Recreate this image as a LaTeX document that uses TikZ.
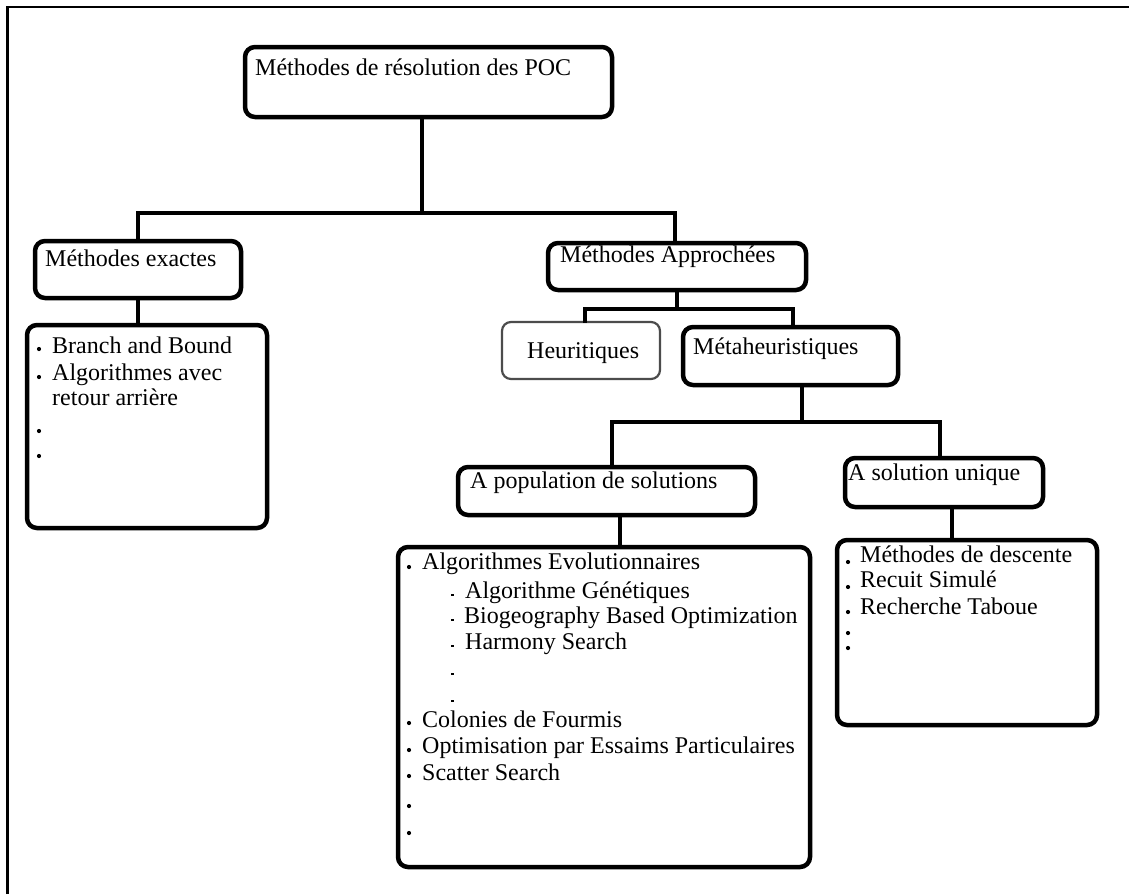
\documentclass[tikz,border=0pt]{standalone}
\usepackage{fontspec}
\setmainfont{Liberation Serif}
\begin{document}
\begin{tikzpicture}[x=1pt,y=-1pt,
  box/.style={draw=black, line width=4.5pt, rounded corners=10pt, inner sep=0pt},
  lightbox/.style={draw=black!70, line width=2.2pt, rounded corners=9pt, inner sep=0pt},
  txt/.style={anchor=base west, inner sep=0pt, font=\fontsize{24}{28}\selectfont},
  conn/.style={line width=3.5pt, line cap=rect},
  bul/.style={circle, fill=black, inner sep=0pt, minimum size=4.2pt},
  sub/.style={rectangle, fill=black, inner sep=0pt, minimum width=3pt, minimum height=2pt}]
\useasboundingbox (0,0) rectangle (1129,894);
\fill[white] (0,0) rectangle (1129,894);
% outer frame
\coordinate (fa) at (7.5,894);
\coordinate (fb) at (7.5,7);
\coordinate (fc) at (1129,7);
\draw[line width=2.5pt] (fa) -- (fb) -- (fc);

% boxes
\node[box, minimum width=367pt, minimum height=70pt] (top) at (428.5,82) {};
\node[box, minimum width=206pt, minimum height=57pt] (ex) at (138,269.5) {};
\node[box, minimum width=258pt, minimum height=47pt] (ap) at (677,266.5) {};
\node[box, minimum width=240pt, minimum height=203pt] (exl) at (147,426.5) {};
\node[lightbox, minimum width=158pt, minimum height=57pt] (heu) at (581,350.5) {};
\node[box, minimum width=215pt, minimum height=58pt] (meta) at (790.5,356) {};
\node[box, minimum width=297pt, minimum height=48pt] (pop) at (606.5,491) {};
\node[box, minimum width=198pt, minimum height=49pt] (uni) at (944,482.5) {};
\node[box, minimum width=412pt, minimum height=320pt] (popl) at (604,707) {};
\node[box, minimum width=260pt, minimum height=185pt] (unil) at (967,632.5) {};

% box titles
\node[txt] (topt) at (255,75) {Méthodes de résolution des POC};
\node[txt] (ext) at (45,266) {Méthodes exactes};
\node[txt] (apt) at (560,262) {Méthodes Approchées};
\node[txt] (heut) at (527,358) {Heuritiques};
\node[txt] (metat) at (693,354) {Métaheuristiques};
\node[txt] (popt) at (470,488) {A population de solutions};
\node[txt] (unit) at (848,480) {A solution unique};

% connectors
\coordinate (j1) at (422,213);
\coordinate (jL) at (138,213);
\coordinate (jR) at (675,213);
\draw[conn] (j1 |- top.south) -- (j1);
\draw[conn] (jL |- ex.north) -- (jL) -- (jR) -- (jR |- ap.north);
\coordinate (k1) at (138,312);
\draw[conn] (k1 |- ex.south) -- (k1 |- exl.north);

\coordinate (j2) at (677,309);
\coordinate (j2L) at (585,309);
\coordinate (j2R) at (793,309);
\draw[conn] (j2 |- ap.south) -- (j2);
\draw[conn] (j2L |- heu.north) -- (j2L) -- (j2R) -- (j2R |- meta.north);

\coordinate (j3) at (802,422);
\coordinate (j3L) at (612,422);
\coordinate (j3R) at (940,422);
\draw[conn] (j3 |- meta.south) -- (j3);
\draw[conn] (j3L |- pop.north) -- (j3L) -- (j3R) -- (j3R |- uni.north);

\coordinate (k2) at (620,530);
\draw[conn] (k2 |- pop.south) -- (k2 |- popl.north);
\coordinate (k3) at (952,523);
\draw[conn] (k3 |- uni.south) -- (k3 |- unil.north);

% exact methods list
\node[txt] (e1) at (52,353) {Branch and Bound};
\node[txt] (e2) at (52,380) {Algorithmes avec};
\node[txt] (e3) at (52,405) {retour arrière};
\foreach \y [count=\i] in {349,377,431,456} \node[bul] (eb\i) at (39,\y) {};

% population list
\node[txt] (p1) at (422,569) {Algorithmes Evolutionnaires};
\node[txt] (p2) at (465,598) {Algorithme Génétiques};
\node[txt] (p3) at (464,623) {Biogeography Based Optimization};
\node[txt] (p4) at (465,649) {Harmony Search};
\node[txt] (p5) at (422,727) {Colonies de Fourmis};
\node[txt] (p6) at (422,753) {Optimisation par Essaims Particulaires};
\node[txt] (p7) at (422,780) {Scatter Search};
\foreach \y [count=\i] in {567,723,750,776,806,833} \node[bul] (pb\i) at (409,\y) {};
\foreach \y [count=\i] in {595,620,646,674,701} \node[sub] (ps\i) at (452,\y) {};

% single solution list
\node[txt] (u1) at (860,562) {Méthodes de descente};
\node[txt] (u2) at (860,587) {Recuit Simulé};
\node[txt] (u3) at (860,614) {Recherche Taboue};
\foreach \y [count=\i] in {562,587,612,633,648} \node[bul] (ub\i) at (848,\y) {};
\end{tikzpicture}
\end{document}
